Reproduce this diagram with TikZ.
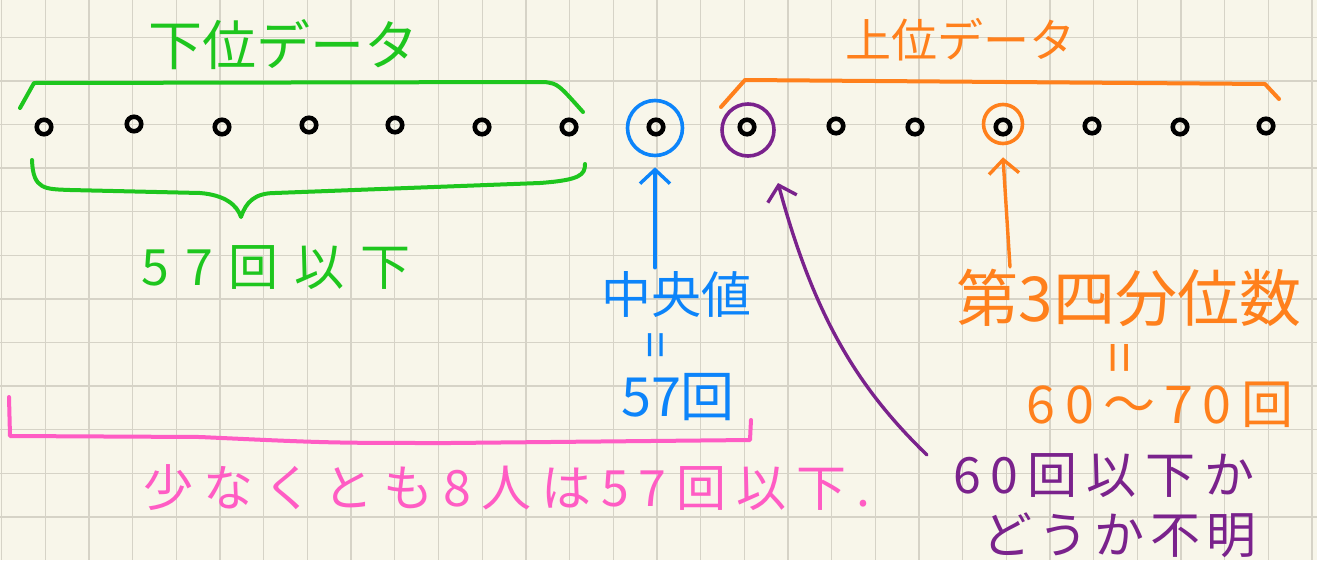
\documentclass[tikz,border=0pt]{standalone}
\usepackage{fontspec}
\setmainfont{Noto Sans CJK JP}
\newfontfamily\jp{Noto Sans CJK JP}
\newfontfamily\jpsa[LetterSpace=12]{Noto Sans CJK JP}
\newfontfamily\jpsb[LetterSpace=18]{Noto Sans CJK JP}
\newfontfamily\jpsc[LetterSpace=20]{Noto Sans CJK JP}
\newfontfamily\jpsd[LetterSpace=32]{Noto Sans CJK JP}
\usetikzlibrary{arrows.meta}
\definecolor{paper}{RGB}{248,246,234}
\definecolor{gridc}{RGB}{214,211,199}
\definecolor{cgreen}{RGB}{30,198,30}
\definecolor{cblue}{RGB}{12,132,250}
\definecolor{corange}{RGB}{255,128,28}
\definecolor{cpurple}{RGB}{122,34,140}
\definecolor{cpink}{RGB}{255,92,196}
\tikzset{
  gridline/.style={draw=gridc, line width=1.3pt},
  dot/.style={circle, draw=black, line width=4.6pt, minimum size=14.5pt, inner sep=0pt},
  ring/.style={circle, line width=3.6pt, inner sep=0pt},
  pen/.style={line width=4pt, line cap=round, line join=round},
  arr/.style={pen, line width=3.4pt, -{Straight Barb[length=14pt,width=30pt,line width=3.4pt]}},
  lab/.style={inner sep=0pt, font=\jp\fontsize{50}{56}\selectfont},
  eqv/.style={inner sep=0pt, rotate=90},
}
\begin{document}
\begin{tikzpicture}[x=1pt,y=-1pt]
\fill[paper] (0,0) rectangle (1317,560);
\useasboundingbox (0,0) rectangle (1317,560);
% grid
\foreach \i in {0,...,30} \draw[gridline] ({1.7+43.68*\i},0) -- ({1.7+43.68*\i},560);
\foreach \j in {0,...,11} \draw[gridline] (0,{37.3+43.6*\j}) -- (1317,{37.3+43.6*\j});

% data dots
\node[dot] (d1) at (44,127) {};
\node[dot] (d2) at (134,124) {};
\node[dot] (d3) at (222,127) {};
\node[dot] (d4) at (309,125) {};
\node[dot] (d5) at (395,125) {};
\node[dot] (d6) at (482,127) {};
\node[dot] (d7) at (569,127) {};
\node[dot] (d8) at (656,127) {};
\node[dot] (d9) at (747,127) {};
\node[dot] (d10) at (836,126) {};
\node[dot] (d11) at (915,127) {};
\node[dot] (d12) at (1003,127) {};
\node[dot] (d13) at (1092,126) {};
\node[dot] (d14) at (1180,127) {};
\node[dot] (d15) at (1266,126) {};

% rings
\node[ring, draw=cblue, minimum size=55pt] (med) at (655,128) {};
\node[ring, draw=cpurple, minimum size=52pt] (q2) at (748,130) {};
\node[ring, draw=corange, minimum size=39pt] (q3) at (1003,124) {};

% green lower-data labels and braces
\node[lab, text=cgreen, font=\jp\fontsize{54}{60}\selectfont] (lowlab) at (283,45) {下位データ};
\draw[pen, cgreen] (20,108) -- (34,83) -- (545,82) .. controls (558,84) .. (583,112);
\draw[pen, cgreen] (32,160) .. controls (33,190) and (45,189) .. (70,190) -- (200,193)
  .. controls (225,195) and (237,205) .. (241,217)
  .. controls (246,202) and (255,193) .. (275,193) -- (540,183)
  .. controls (580,180) and (585,175) .. (585,164);
\node[lab, text=cgreen, font=\jpsd\fontsize{50}{56}\selectfont] (lowval) at (276,268) {57回以下};

% orange upper-data label and bracket
\node[lab, text=corange, font=\jp\fontsize{46}{52}\selectfont] (uplab) at (960,40) {上位データ};
\draw[pen, corange] (721,107) -- (745,80) -- (1265,84) -- (1279,99);

% median
\node[lab, text=cblue] (medlab) at (676,295) {中央値};
\node[eqv, text=cblue, font=\jp\fontsize{48}{54}\selectfont] (medeq) at (661,345) {=};
\node[lab, text=cblue, font=\jp\fontsize{54}{60}\selectfont] (medval) at (678,397) {57回};
\draw[arr, cblue] ([yshift=4pt]medlab.north -| med.south) -- ([yshift=-10pt]med.south);

% third quartile
\node[lab, text=corange, font=\jp\fontsize{62}{68}\selectfont] (q3lab) at (1129,298) {第3四分位数};
\node[eqv, text=corange, font=\jp\fontsize{56}{62}\selectfont] (q3eq) at (1126,358) {=};
\node[lab, text=corange, font=\jpsb\fontsize{52}{58}\selectfont] (q3val) at (1160,405) {60～70回};
\draw[arr, corange] ([xshift=7pt,yshift=2pt]q3lab.north -| q3.south) -- ([yshift=-12pt]q3.south);

% purple note
\node[lab, text=cpurple, font=\jpsb\fontsize{50}{56}\selectfont] (note1) at (1104,476) {60回以下か};
\node[lab, text=cpurple, font=\jpsa\fontsize{50}{56}\selectfont] (note2) at (1119,535) {どうか不明};
\coordinate (pstart) at (927,455);
\coordinate (ptip) at (778,183);
\draw[arr, cpurple] (pstart) .. controls (860,390) and (815,320) .. (ptip);

% pink bracket
\draw[pen, cpink] (9,397) -- (10,436) -- (200,437) .. controls (330,443) .. (450,443) -- (750,440) -- (751,420);
\node[lab, text=cpink, font=\jpsc\fontsize{50}{56}\selectfont] (pinklab) at (507,488) {少なくとも8人は57回以下.};
\end{tikzpicture}
\end{document}
